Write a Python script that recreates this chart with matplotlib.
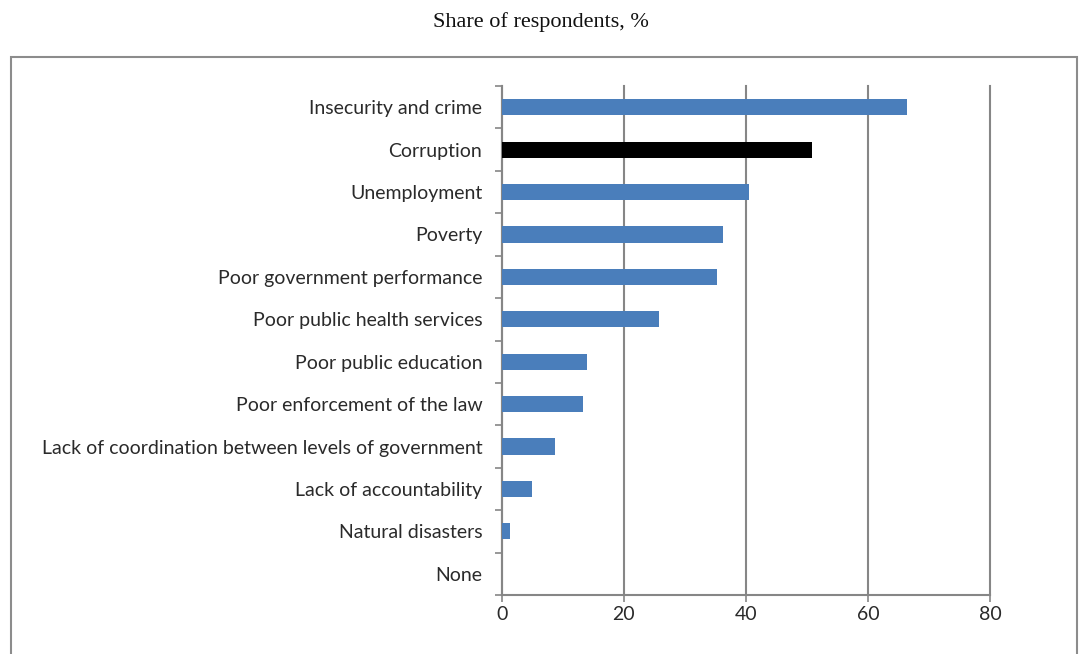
import matplotlib
matplotlib.use("Agg")
import matplotlib.pyplot as plt
from matplotlib.patches import Rectangle

categories = ["Insecurity and crime", "Corruption", "Unemployment", "Poverty",
              "Poor government performance", "Poor public health services",
              "Poor public education", "Poor enforcement of the law",
              "Lack of coordination between levels of government",
              "Lack of accountability", "Natural disasters", "None"]
values = [66.4, 50.9, 40.5, 36.2, 35.2, 25.7, 14.0, 13.4, 8.8, 5.0, 1.4, 0.0]
highlight = "Corruption"
xticks = [0, 20, 40, 60, 80]

W, H = 1084, 654
fig = plt.figure(figsize=(W/100, H/100), dpi=100)
ax = fig.add_axes([501.7/W, 1-595/H, (990-501.7)/W, (595-86)/H])

colors = ["black" if c == highlight else "#4A7EBB" for c in categories]
ypos = list(range(len(categories)))
ax.barh(ypos, values, height=0.38, color=colors, zorder=3)
ax.set_ylim(len(categories)-0.5, -0.5)
ax.set_xlim(0, 80)
ax.set_yticks(ypos)
ax.set_yticklabels(categories, fontsize=14, family="Lato", color="#2a2a2a")
ax.set_xticks(xticks)
ax.set_xticklabels([str(t) for t in xticks], fontsize=14, family="Lato", color="#2a2a2a")
ax.set_yticks([i - 0.5 for i in range(len(categories)+1)], minor=True)
ax.tick_params(axis="y", which="major", length=0, pad=14)
ax.tick_params(axis="y", which="minor", length=5, width=1.2, color="#868686", direction="out")
ax.tick_params(axis="x", length=5, width=1.2, color="#868686", direction="out", pad=3)
ax.grid(axis="x", color="#868686", linewidth=1.5, zorder=0)
for gl in ax.get_xgridlines():
    gl.set_clip_on(False)
for s in ["top", "right"]:
    ax.spines[s].set_visible(False)
for s in ["left", "bottom"]:
    ax.spines[s].set_color("#868686")
    ax.spines[s].set_linewidth(1.5)

fig.text(541/W, 1-22/H, "Share of respondents, %", ha="center", va="center",
         family="Liberation Serif", fontsize=16, color="#111111")
fig.patches.append(Rectangle((11/W, -0.05), (1077-11)/W, (1-57/H)+0.05,
                             transform=fig.transFigure, fill=False,
                             edgecolor="#8c8c8c", linewidth=1.5))
fig.savefig("out.png", dpi=100)
